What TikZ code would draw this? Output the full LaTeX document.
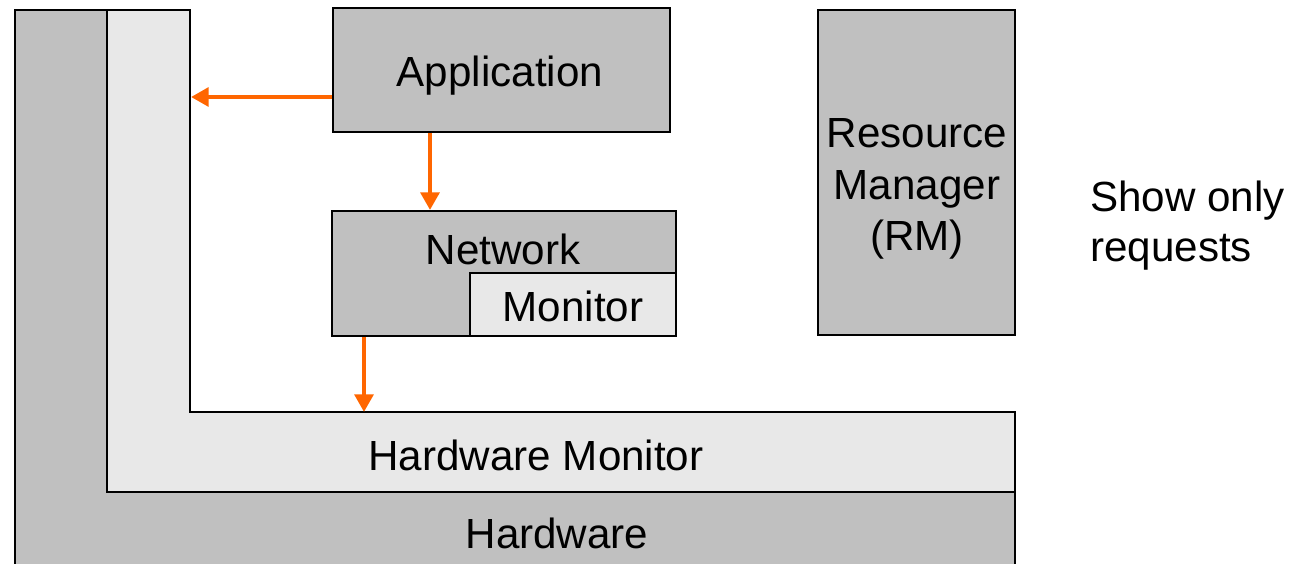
\documentclass[tikz,border=0pt]{standalone}
\usepackage{fontspec}
\setmainfont{Liberation Sans}
\usetikzlibrary{arrows.meta}
\definecolor{dk}{HTML}{C0C0C0}
\definecolor{lt}{HTML}{E8E8E8}
\definecolor{org}{HTML}{FF6600}
\begin{document}
\begin{tikzpicture}[x=0.02cm,y=-0.02cm,
  box/.style={draw=black,line width=1.1pt,rectangle,inner sep=0pt},
  lbl/.style={font=\fontsize{24}{28}\selectfont,inner sep=0pt},
  req/.style={draw=org,line width=2.8pt,-{Triangle[length=10pt,width=10.5pt]}}]
\useasboundingbox (0,0) rectangle (1301,564);
% Hardware (outer L)
\fill[dk] (15,10) -- (107,10) -- (107,492) -- (1015,492) -- (1015,570) -- (15,570) -- cycle;
\draw[line width=1.1pt] (15,570) -- (15,10) -- (107,10) -- (107,492) -- (1015,492) -- (1015,570);
% Hardware Monitor (inner L)
\fill[lt] (107,10) -- (190,10) -- (190,412) -- (1015,412) -- (1015,492) -- (107,492) -- cycle;
\draw[line width=1.1pt] (107,492) -- (107,10) -- (190,10) -- (190,412) -- (1015,412) -- (1015,492) -- (107,492);
\coordinate (hmleft) at (191,97);
\coordinate (hmtop) at (364,412);
\node[lbl] (hmtext) at (536,455) {Hardware Monitor};
\node[lbl] (hwtext) at (557,533) {Hardware};
% Application
\node[box,fill=dk,minimum width=6.74cm,minimum height=2.48cm] (app) at (501.5,70) {};
\node[lbl] (apptext) at (500,76) {Application};
% Network + Monitor
\node[box,fill=dk,minimum width=6.88cm,minimum height=2.5cm] (net) at (504,273.5) {};
\node[lbl] (nettext) at (503,249) {Network};
\node[box,fill=lt,minimum width=4.12cm,minimum height=1.26cm] (mon) at (573,304.5) {};
\node[lbl] (montext) at (573,306) {Monitor};
% Resource Manager
\node[box,fill=dk,minimum width=3.94cm,minimum height=6.5cm] (rm) at (916.5,172.5) {};
\node[lbl,align=center,font=\fontsize{24}{29.5}\selectfont] (rmtext) at (917,189) {Resource\\Manager\\(RM)};
% note
\node[lbl,align=left,anchor=west,font=\fontsize{24}{28.5}\selectfont] (note) at (1090,226) {Show only\\requests};
% requests
\draw[req] (app.west |- 0,97) -- (hmleft);
\draw[req] (app.south -| 430,0) -- (net.north -| 430,0);
\draw[req] (net.south -| 364,0) -- (hmtop);
\end{tikzpicture}
\end{document}
